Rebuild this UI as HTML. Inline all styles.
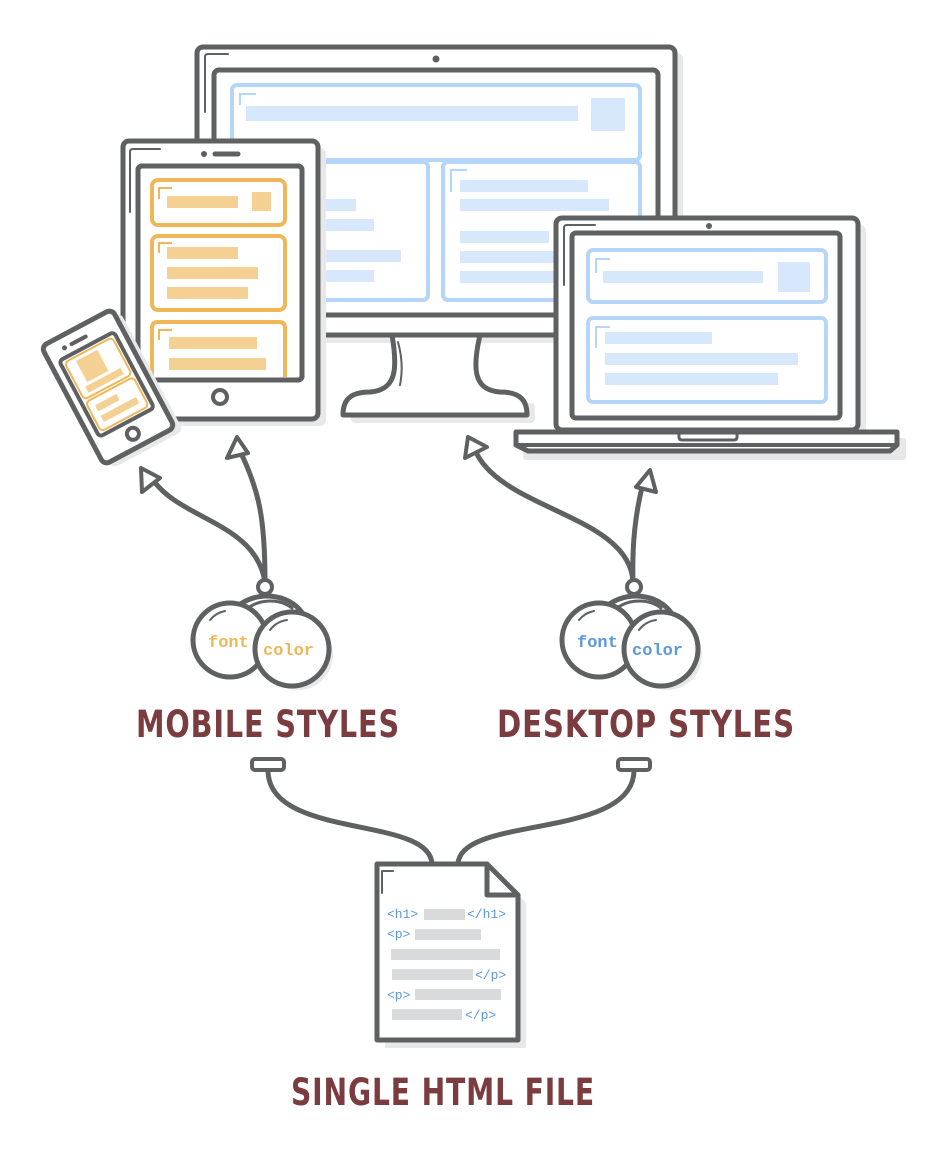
<!DOCTYPE html>
<html><head><meta charset="utf-8"><style>
html,body{margin:0;padding:0;background:#fff;}
svg{display:block}
.s{fill:none;stroke:#5e6062;stroke-width:5;stroke-linejoin:round;stroke-linecap:round}
.w{fill:#fff;stroke:#5e6062;stroke-width:5;stroke-linejoin:round}
.sh{fill:#e8e8e8}
.b{fill:#fff;stroke:#b5d5fb;stroke-width:4}
.bb{fill:#d7e8fc}
.o{fill:#fff;stroke:#f0b758;stroke-width:4}
.ob{fill:#f5d093}
.t{font-family:"DejaVu Sans Condensed","Liberation Sans",sans-serif;font-weight:bold;fill:#7b3c40;font-size:37px;letter-spacing:1px}
.c{font-family:"Liberation Mono",monospace;font-weight:bold;font-size:17px}
.h{font-family:"Liberation Mono",monospace;font-size:13px;fill:#5b98e0}
.g{fill:#d8dadc}
</style></head><body>
<svg width="940" height="1150" viewBox="0 0 940 1150" xmlns="http://www.w3.org/2000/svg">
<!-- MONITOR -->
<rect class="sh" x="203" y="53" width="480" height="290" rx="6"/>
<rect class="sh" x="351" y="403" width="184" height="20" rx="4"/>
<path class="w" d="M392,335 C398,370 396,390 370,392 C348,392 343,402 343,415 L527,415 C527,402 522,392 500,392 C474,390 472,370 480,335 Z"/>
<path class="s" d="M398,342 C403,360 402,375 400,385" style="stroke-width:2"/>
<rect class="w" x="197" y="47" width="478" height="288" rx="6"/>
<path class="s" d="M205,112 V57 Q205,54 208,54 H228" style="stroke-width:2"/>
<circle cx="436" cy="59" r="3.5" fill="#5e6062"/>
<line class="s" x1="200" y1="315" x2="673" y2="315"/>
<rect class="w" x="214" y="70" width="444" height="245" rx="5"/>
<rect class="b" x="232" y="85" width="408" height="75" rx="5"/>
<path d="M240,105 V94 H256" fill="none" stroke="#b5d5fb" stroke-width="2"/>
<rect class="bb" x="246" y="106" width="332" height="15"/>
<rect class="bb" x="591" y="98" width="34" height="33"/>
<rect class="b" x="232" y="162" width="196" height="138" rx="5"/>
<rect class="b" x="443" y="162" width="197" height="138" rx="5"/>
<path d="M451,192 V170 H467" fill="none" stroke="#b5d5fb" stroke-width="2"/>
<rect class="bb" x="320" y="199" width="36" height="12"/>
<rect class="bb" x="320" y="219" width="54" height="12"/>
<rect class="bb" x="320" y="250" width="81" height="12"/>
<rect class="bb" x="320" y="270" width="54" height="12"/>
<rect class="bb" x="460" y="180" width="128" height="12"/>
<rect class="bb" x="460" y="199" width="149" height="12"/>
<rect class="bb" x="460" y="231" width="89" height="12"/>
<rect class="bb" x="460" y="251" width="100" height="12"/>
<rect class="bb" x="460" y="271" width="100" height="12"/>
<!-- TABLET -->
<rect class="sh" x="130" y="148" width="196" height="278" rx="6"/>
<rect class="w" x="123" y="141" width="195" height="278" rx="6"/>
<path class="s" d="M130,212 V152 Q130,149 133,149 H160" style="stroke-width:2"/>
<circle cx="204" cy="154" r="3" fill="#5e6062"/>
<line class="s" x1="215" y1="154" x2="238" y2="154"/>
<rect class="w" x="138" y="166" width="164" height="214" rx="4"/>
<rect class="o" x="152" y="180" width="133" height="45" rx="6"/>
<rect class="o" x="152" y="236" width="133" height="74" rx="6"/>
<path d="M152,377 V328 Q152,322 158,322 H279 Q285,322 285,328 V377" fill="#fff" stroke="#f0b758" stroke-width="4"/>
<path d="M159,199 V188 H172 M159,253 V243 H172 M159,340 V330 H172" fill="none" stroke="#f0b758" stroke-width="2"/>
<rect class="ob" x="167" y="196" width="71" height="12"/>
<rect class="ob" x="252" y="192" width="19" height="19"/>
<rect class="ob" x="167" y="247" width="71" height="12"/>
<rect class="ob" x="167" y="267" width="91" height="12"/>
<rect class="ob" x="167" y="287" width="81" height="12"/>
<rect class="ob" x="169" y="337" width="88" height="12"/>
<rect class="ob" x="169" y="358" width="97" height="12"/>
<rect x="138" y="166" width="164" height="214" rx="4" fill="none" stroke="#5e6062" stroke-width="5"/>
<circle class="w" cx="220" cy="397" r="7" style="stroke-width:4"/>
<!-- PHONE -->
<g transform="translate(108,387) rotate(-28)">
<rect class="sh" x="-34" y="-60" width="80" height="134" rx="6"/>
<rect class="w" x="-40" y="-67" width="80" height="134" rx="6"/>
<circle cx="-20" cy="-55" r="2.5" fill="#5e6062"/>
<line class="s" x1="-12" y1="-55" x2="4" y2="-55" style="stroke-width:4"/>
<rect class="w" x="-31" y="-46" width="62" height="86" rx="4" style="stroke-width:4"/>
<rect class="o" x="-27" y="-42" width="54" height="42" rx="4" style="stroke-width:2"/>
<rect class="o" x="-27" y="3" width="54" height="33" rx="4" style="stroke-width:2"/>
<rect class="ob" x="-16" y="-38" width="24" height="24"/>
<rect class="ob" x="-20" y="-11" width="40" height="7"/>
<rect class="ob" x="-20" y="10" width="24" height="7"/>
<rect class="ob" x="-20" y="22" width="40" height="7"/>
<circle class="w" cx="0" cy="53" r="6" style="stroke-width:4"/>
</g>
<!-- LAPTOP -->
<rect class="sh" x="563" y="225" width="303" height="213" rx="6"/>
<rect class="sh" x="523" y="438" width="383" height="22" rx="3"/>
<rect class="w" x="556" y="218" width="302" height="212" rx="6"/>
<path class="s" d="M564,285 V228 Q564,225 567,225 H595" style="stroke-width:2"/>
<circle cx="709" cy="226" r="3" fill="#5e6062"/>
<rect class="w" x="572" y="233" width="268" height="185" rx="4"/>
<rect class="b" x="588" y="250" width="238" height="52" rx="5"/>
<rect class="b" x="588" y="318" width="238" height="84" rx="5"/>
<path d="M596,273 V259 H610 M596,348 V327 H610" fill="none" stroke="#b5d5fb" stroke-width="2"/>
<rect class="bb" x="603" y="271" width="160" height="12"/>
<rect class="bb" x="778" y="262" width="32" height="30"/>
<rect class="bb" x="605" y="332" width="107" height="12"/>
<rect class="bb" x="605" y="353" width="193" height="12"/>
<rect class="bb" x="605" y="373" width="173" height="12"/>
<path class="w" d="M516,432 H897 V445 L890,451 H528 L516,445 Z"/>
<line class="s" x1="516" y1="445" x2="897" y2="445" style="stroke-width:4"/>
<path class="s" d="M679,432 V437 Q679,440 682,440 H734 Q737,440 737,437 V432" style="stroke-width:3"/>
<!-- ARROWS -->
<path class="s" d="M265,582 C265,520 260,490 237,445"/>
<path class="s" d="M265,582 C255,520 175,520 150,475"/>
<path class="w" d="M237,437 L227,458 L248,453 Z" style="stroke-width:4"/>
<path class="w" d="M141,468 L142,492 L160,478 Z" style="stroke-width:4"/>
<path class="s" d="M633,582 C632,545 635,515 643,483"/>
<path class="s" d="M633,582 C630,515 500,510 475,450"/>
<path class="w" d="M650,470 L636,487 L656,492 Z" style="stroke-width:4"/>
<path class="w" d="M468,437 L465,458 L487,447 Z" style="stroke-width:4"/>
<!-- MOBILE CIRCLES -->
<g>
<circle class="sh" cx="298" cy="655" r="35"/>
<path class="s" d="M238,606 A40,32 0 0 1 304,616"/>
<path class="s" d="M245,611 A32,26 0 0 1 292,608" style="stroke-width:3"/>
<circle class="w" cx="230" cy="640" r="37"/>
<path class="s" d="M210,620 A26,26 0 0 1 225,611" style="stroke-width:2"/>
<text class="c" x="208" y="647" fill="#f0b758">font</text>
<circle class="w" cx="292" cy="649" r="37"/>
<path class="s" d="M270,630 A26,26 0 0 1 287,620" style="stroke-width:2"/>
<text class="c" x="263" y="655" fill="#f0b758">color</text>
<circle class="w" cx="265" cy="587" r="7" style="stroke-width:4"/>
</g>
<g transform="translate(369,0)">
<circle class="sh" cx="298" cy="655" r="35"/>
<path class="s" d="M238,606 A40,32 0 0 1 304,616"/>
<path class="s" d="M245,611 A32,26 0 0 1 292,608" style="stroke-width:3"/>
<circle class="w" cx="230" cy="640" r="37"/>
<path class="s" d="M210,620 A26,26 0 0 1 225,611" style="stroke-width:2"/>
<text class="c" x="208" y="647" fill="#5b98e0">font</text>
<circle class="w" cx="292" cy="649" r="37"/>
<path class="s" d="M270,630 A26,26 0 0 1 287,620" style="stroke-width:2"/>
<text class="c" x="263" y="655" fill="#5b98e0">color</text>
<circle class="w" cx="265" cy="587" r="7" style="stroke-width:4"/>
</g>
<!-- TITLES -->
<text class="t" x="268" y="737" text-anchor="middle" textLength="264" lengthAdjust="spacingAndGlyphs">MOBILE STYLES</text>
<text class="t" x="646" y="737" text-anchor="middle" textLength="298" lengthAdjust="spacingAndGlyphs">DESKTOP STYLES</text>
<text class="t" x="443" y="1105" text-anchor="middle" textLength="304" lengthAdjust="spacingAndGlyphs">SINGLE HTML FILE</text>
<!-- CONNECTORS -->
<path class="s" d="M268,770 C268,840 430,815 432,864"/>
<path class="s" d="M634,770 C634,840 460,815 458,864"/>
<rect class="w" x="252" y="759" width="32" height="11" rx="3" style="stroke-width:4"/>
<rect class="w" x="618" y="759" width="32" height="11" rx="3" style="stroke-width:4"/>
<!-- FILE -->
<path class="sh" d="M385,872 H495 L526,903 V1048 H385 Z"/>
<path class="w" d="M377,864 H487 L518,895 V1040 H377 Z"/>
<path class="s" d="M487,864 V895 H518"/>
<path class="s" d="M382,893 V871 H393" style="stroke-width:2"/>
<text class="h" x="387" y="918">&lt;h1&gt;</text>
<rect class="g" x="424" y="909" width="41" height="11"/>
<text class="h" x="467" y="918">&lt;/h1&gt;</text>
<text class="h" x="387" y="938">&lt;p&gt;</text>
<rect class="g" x="415" y="929" width="66" height="11"/>
<rect class="g" x="391" y="949" width="109" height="11"/>
<rect class="g" x="392" y="969" width="81" height="11"/>
<text class="h" x="475" y="979">&lt;/p&gt;</text>
<text class="h" x="387" y="999">&lt;p&gt;</text>
<rect class="g" x="415" y="989" width="86" height="11"/>
<rect class="g" x="392" y="1009" width="70" height="11"/>
<text class="h" x="465" y="1019">&lt;/p&gt;</text>
</svg>
</body></html>
